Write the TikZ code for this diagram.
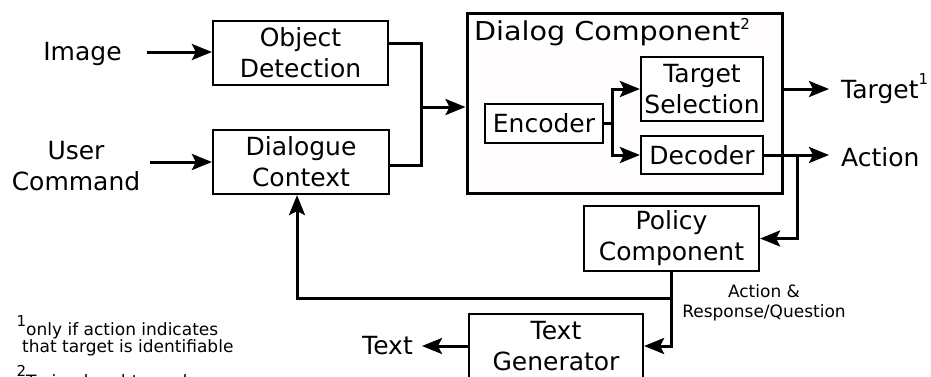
\documentclass[tikz,border=0pt]{standalone}
\usepackage{fontspec}
\setmainfont{DejaVu Sans}
\usetikzlibrary{arrows.meta}
\begin{document}
\begin{tikzpicture}[x=1pt,y=-1pt,
  box/.style={draw, line width=2.2pt, inner sep=0pt, align=center,
    font=\fontsize{25}{31}\selectfont},
  lbl/.style={inner sep=0pt, align=center, font=\fontsize{25}{31}\selectfont},
  small/.style={inner sep=0pt, align=center, font=\fontsize{17}{20}\selectfont},
  wire/.style={line width=3pt},
  arr/.style={wire, -{Stealth[length=20pt,width=16pt,inset=4pt]}}]
\useasboundingbox (0,0) rectangle (931,376);
\clip (0,0) rectangle (931,376);

% inputs
\node[lbl, anchor=base] (img) at (82.5,60) {Image};
\node[lbl] (usr) at (76,166) {User\\Command};

% front-end boxes
\node[box, minimum width=175pt, minimum height=64pt] (od) at (300.5,53) {Object\\Detection};
\node[box, minimum width=176pt, minimum height=64pt] (dc) at (301,162) {Dialogue\\Context};

% dialog component with its inner blocks
\node[draw, line width=3pt, fill={rgb,255:red,255;green,253;blue,253},
  minimum width=315pt, minimum height=180pt, inner sep=0pt] (dlg) at (624.5,103) {};
\node[lbl, anchor=base west, font=\fontsize{26}{31}\selectfont] (dlgt) at (474,40)
  {\scalebox{1.1}[1]{Dialog Component}\raisebox{11pt}{\fontsize{15}{15}\selectfont 2}};
\node[box, fill=white, minimum width=118pt, minimum height=39pt] (enc) at (544,123.5) {Encoder};
\node[box, fill=white, minimum width=122pt, minimum height=64pt] (ts) at (702,89) {Target\\Selection};
\node[box, fill=white, minimum width=122pt, minimum height=38pt] (dec) at (702,155) {Decoder};

% outputs
\node[lbl, anchor=base west] (tgt) at (841,98.3)
  {Target\raisebox{13.5pt}{\fontsize{15}{15}\selectfont 1}};
\node[lbl, anchor=base west] (act) at (841,166) {Action};

% policy and generator
\node[box, minimum width=175pt, minimum height=65pt] (pol) at (671.5,238.5) {Policy\\Component};
\node[box, minimum width=174pt, minimum height=64pt] (tg) at (556,346) {Text\\Generator};
\node[lbl, anchor=base east] (txt) at (413,354) {Text};
\node[small] (ar) at (764,302.5) {Action \&\\Response/Question};

% footnotes
\node[small, anchor=base west] (fn1) at (16.5,335)
  {\raisebox{9pt}{\fontsize{15}{15}\selectfont 1}only if action indicates};
\node[small, anchor=base west] (fn2) at (22,352) {that target is identifiable};
\node[small, anchor=base west] (fn3) at (16.5,387)
  {\raisebox{11pt}{\fontsize{15}{15}\selectfont 2}Trained end-to-end};

% connectors
\coordinate (imgout) at (147,52);
\coordinate (usrout) at (150,162);
\draw[arr] (imgout) -- (od.west |- imgout);
\draw[arr] (usrout) -- (dc.west);

\coordinate (mrg) at (421,107);
\draw[wire] ([yshift=10pt]od.east) -| (mrg) |- ([yshift=-3pt]dc.east);
\draw[arr] (mrg) -- (mrg -| dlg.west);

\draw[arr] (enc.east) -- ++(8,0) |- (ts.west);
\draw[arr] (enc.east) -- ++(8,0) |- (dec.west);

\draw[arr] (dlg.east |- ts.east) -- ([xshift=-12pt]tgt.west |- ts.east);
\draw[arr] (dec.east) -- ([xshift=-12pt]act.west |- dec.east);
\coordinate (abr) at (797,155);
\draw[arr] (abr) |- (pol.east);

\draw[arr] (pol.south) |- (tg.east);
\coordinate (fb) at (671.5,298);
\draw[arr] (fb) -| ([xshift=-4pt]dc.south);
\draw[arr] (tg.west) -- ([xshift=9pt]txt.east |- tg.west);
\end{tikzpicture}
\end{document}
